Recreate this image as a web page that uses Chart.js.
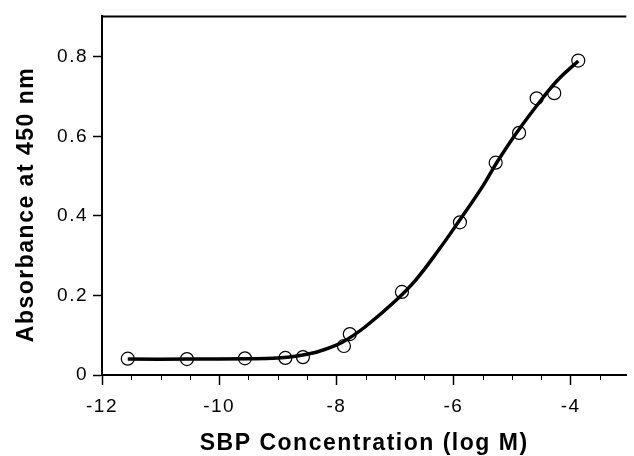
<!DOCTYPE html>
<html>
<head>
<meta charset="utf-8">
<script src="https://cdn.jsdelivr.net/npm/chart.js@4"></script>
<style>
  html, body { margin: 0; padding: 0; background: #fff; }
  #wrap { width: 634px; height: 456px; }
</style>
</head>
<body>
<div id="wrap"><canvas id="elisaChart" width="634" height="456"></canvas></div>
<script>
// measured points (log M, absorbance)
const pointX = [-11.56, -10.55, -9.56, -8.87, -8.57, -7.87, -7.77, -6.88, -5.89, -5.28, -4.88, -4.58, -4.28, -3.87];
const pointY = [0.041, 0.040, 0.042, 0.043, 0.045, 0.073, 0.103, 0.209, 0.384, 0.534, 0.609, 0.696, 0.709, 0.791];

// fitted curve
const curveX = [-11.56, -10.5, -9.5, -9.0, -8.67, -8.33, -8.0, -7.82, -7.5, -6.98, -6.65, -6.26, -5.92, -5.5, -5.25, -4.91, -4.46, -4.2, -3.87];
const curveY = [0.040, 0.040, 0.041, 0.043, 0.048, 0.058, 0.075, 0.089, 0.122, 0.188, 0.238, 0.313, 0.384, 0.475, 0.537, 0.612, 0.700, 0.745, 0.790];

const xTicks = [-12, -10, -8, -6, -4];
const yTicks = [0, 0.2, 0.4, 0.6, 0.8];

const FONT = "'Liberation Sans', Arial, sans-serif";
const yTitle = "Absorbance at 450 nm";

const frame = {
    id: "frame",
    beforeDraw(chart) {
        chart.ctx.letterSpacing = "1.5px";
    },
    afterDraw(chart) {
        const ctx = chart.ctx;
        const area = chart.chartArea;
        const xs = chart.scales.x;
        ctx.save();
        ctx.strokeStyle = "#000";
        // top border
        ctx.lineWidth = 2;
        ctx.beginPath();
        ctx.moveTo(area.left, area.top);
        ctx.lineTo(area.right, area.top);
        ctx.stroke();
        // minor ticks on x every 0.5
        ctx.lineWidth = 1;
        ctx.beginPath();
        for (let v = -12; v <= xs.max; v += 0.5) {
            if (xTicks.includes(v)) continue;
            const px = Math.round(xs.getPixelForValue(v)) + 0.5;
            ctx.moveTo(px, area.bottom);
            ctx.lineTo(px, area.bottom + 5);
        }
        ctx.stroke();
        // y axis title
        ctx.translate(32.5, 204.5);
        ctx.rotate(-Math.PI / 2);
        ctx.font = "bold 23px " + FONT;
        ctx.fillStyle = "#000";
        ctx.textAlign = "center";
        ctx.textBaseline = "alphabetic";
        ctx.fillText(yTitle, 0, 0);
        ctx.restore();
    }
};

new Chart(document.getElementById("elisaChart"), {
    data: {
        datasets: [
            {
                type: "line",
                data: curveX.map((x, i) => ({ x: x, y: curveY[i] })),
                borderColor: "#000",
                borderWidth: 3.5,
                pointRadius: 0,
                tension: 0.4,
                fill: false,
                order: 2
            },
            {
                type: "scatter",
                data: pointX.map((x, i) => ({ x: x, y: pointY[i] })),
                pointStyle: "circle",
                pointRadius: 6.5,
                pointBorderWidth: 1.2,
                pointBorderColor: "#000",
                pointBackgroundColor: "rgba(0,0,0,0)",
                order: 1
            }
        ]
    },
    options: {
        responsive: false,
        animation: false,
        layout: { padding: { left: 0, right: 0, top: 15, bottom: 0 } },
        plugins: {
            legend: { display: false },
            tooltip: { enabled: false }
        },
        scales: {
            x: {
                type: "linear",
                min: -12,
                max: -3.05,
                afterBuildTicks: (scale) => {
                    scale.ticks = xTicks.map(v => ({ value: v }));
                },
                afterFit: (scale) => { scale.height = 81; },
                ticks: {
                    color: "#000",
                    font: { family: FONT, size: 19 },
                    padding: 10,
                    maxRotation: 0,
                    callback: (v) => String(v)
                },
                grid: {
                    drawOnChartArea: false,
                    drawTicks: true,
                    tickLength: 10,
                    tickColor: "#000",
                    tickWidth: 1.5
                },
                border: { color: "#000", width: 2 },
                title: {
                    display: true,
                    text: "SBP Concentration (log M)",
                    color: "#000",
                    font: { family: FONT, size: 23, weight: "bold" },
                    padding: { top: 4, bottom: -1 }
                }
            },
            y: {
                type: "linear",
                min: 0,
                max: 0.902,
                afterBuildTicks: (scale) => {
                    scale.ticks = yTicks.map(v => ({ value: v }));
                },
                afterFit: (scale) => { scale.width = 102; },
                ticks: {
                    color: "#000",
                    font: { family: FONT, size: 19 },
                    padding: 5,
                    callback: (v) => v === 0 ? "0" : v.toFixed(1)
                },
                grid: {
                    drawOnChartArea: false,
                    drawTicks: true,
                    tickLength: 9,
                    tickColor: "#000",
                    tickWidth: 1.5
                },
                border: { color: "#000", width: 2 }
            }
        }
    },
    plugins: [frame]
});
</script>
</body>
</html>
